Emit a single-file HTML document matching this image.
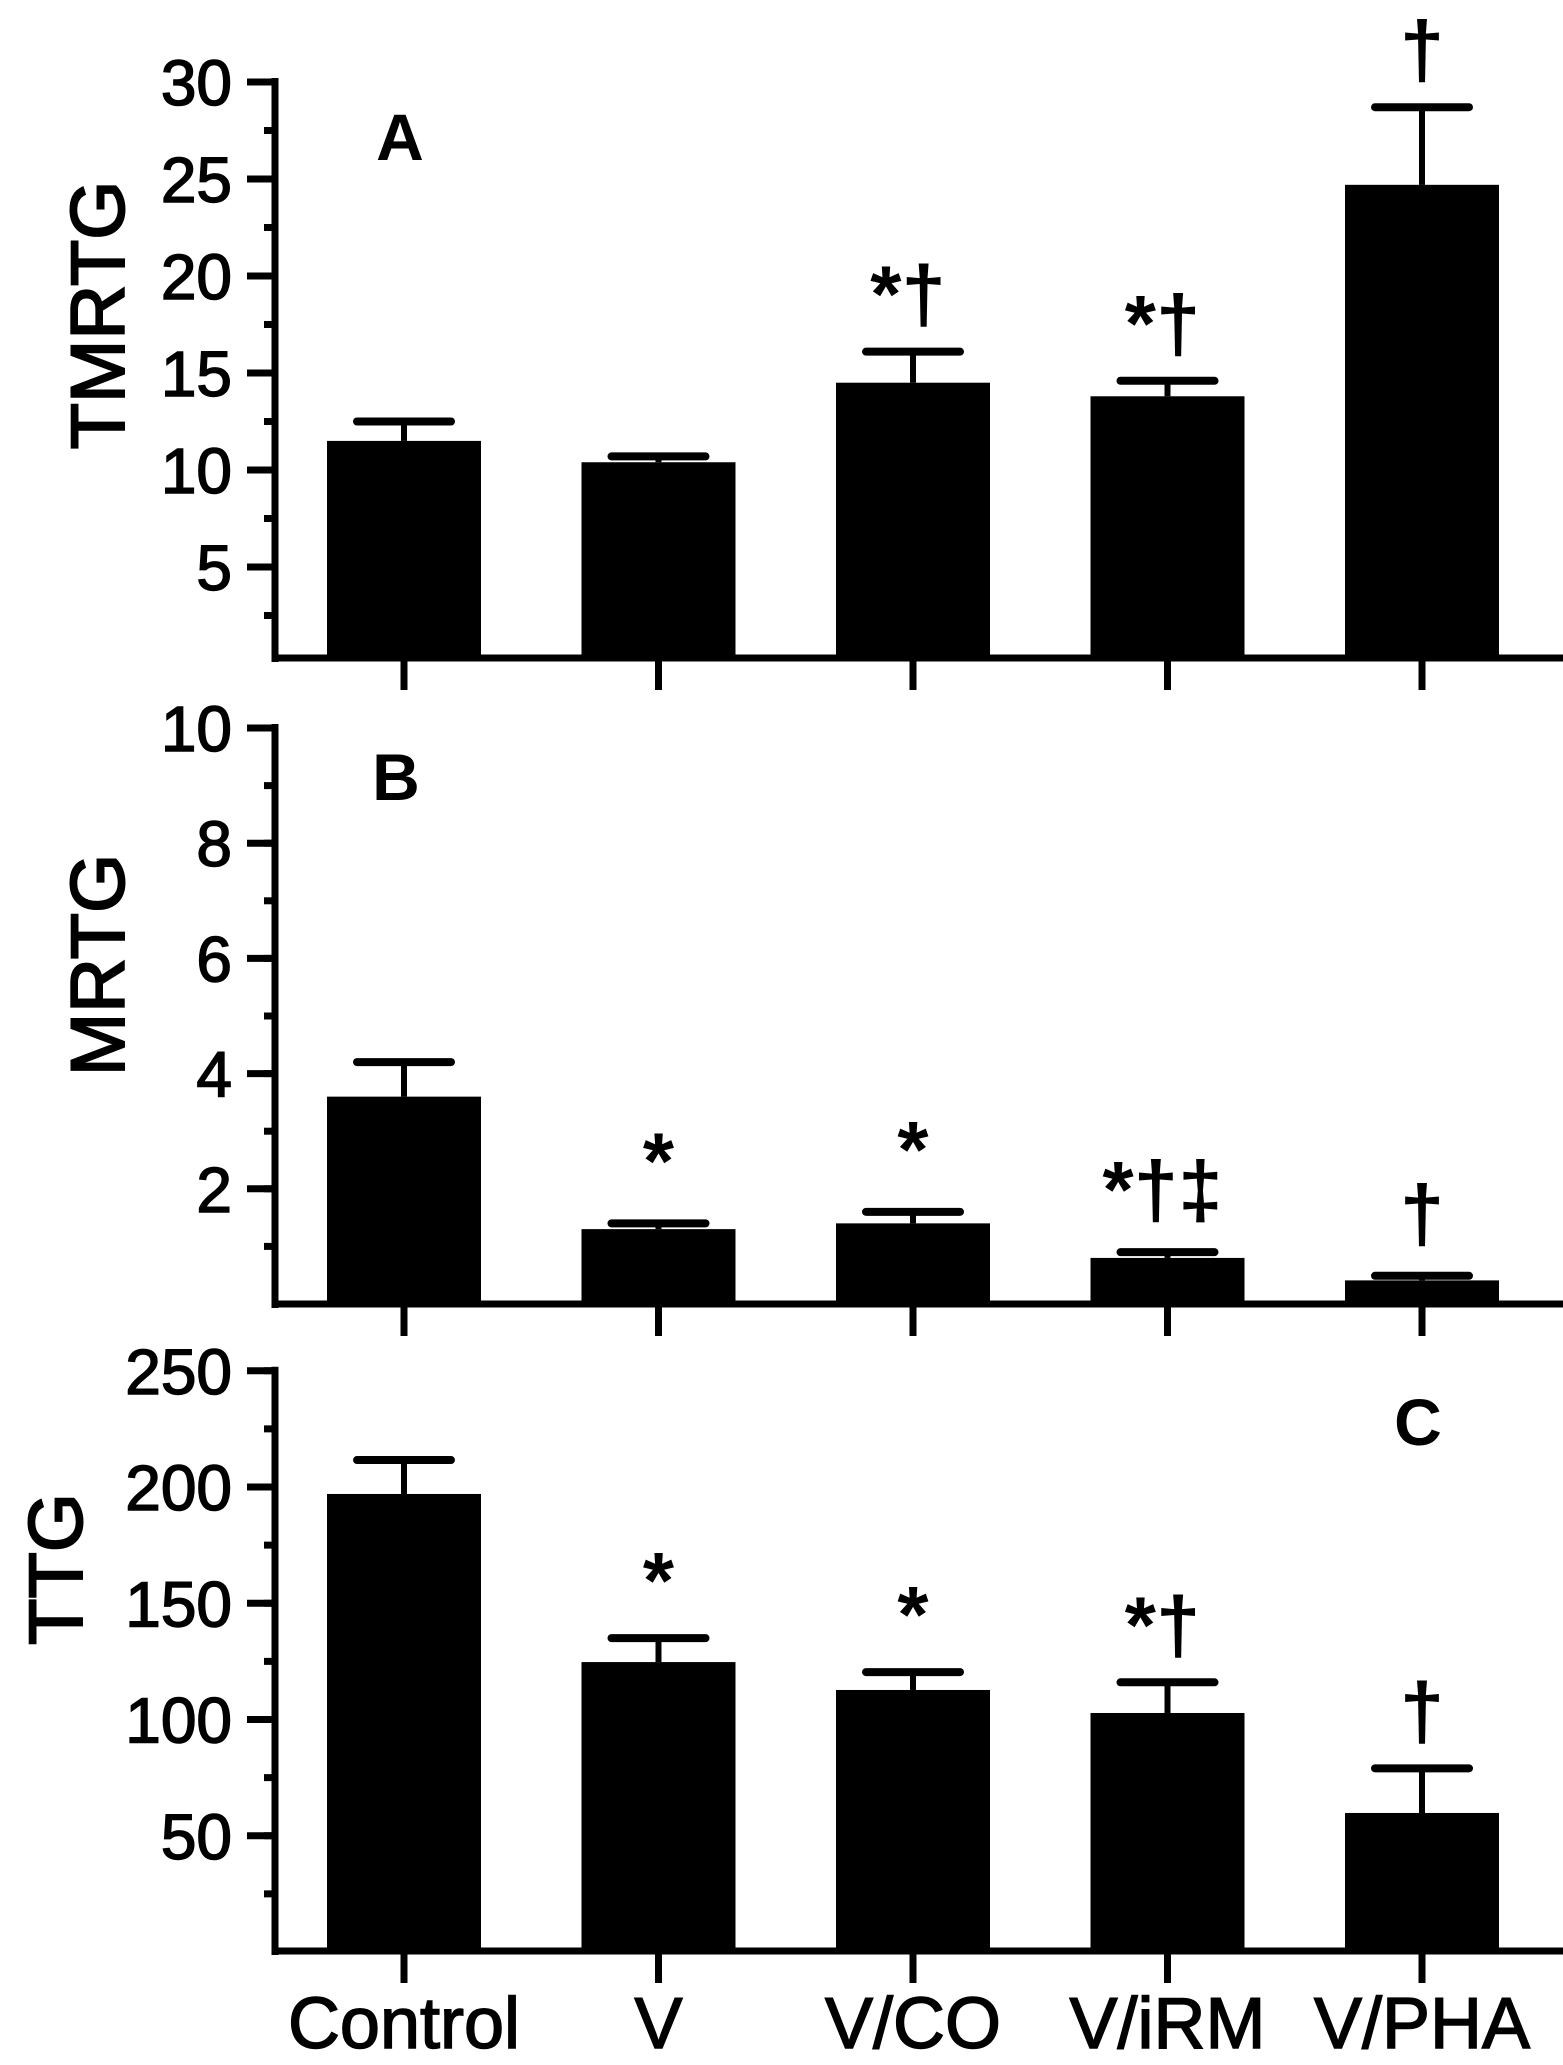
<!DOCTYPE html>
<html><head><meta charset="utf-8"><style>
html,body{margin:0;padding:0;background:#fff;}
svg{display:block;}
text{font-family:"Liberation Sans",Arial,sans-serif;fill:#000;}
</style></head><body>
<svg id="chart" width="1563" height="2065" viewBox="0 0 1563 2065" xmlns="http://www.w3.org/2000/svg"></svg>
<script>
const categories = ["Control","V","V/CO","V/iRM","V/PHA"];
const tmrtgValues = [11.5,10.4,14.5,13.8,24.7];
const tmrtgErrors = [12.5,10.7,16.1,14.6,28.7];
const tmrtgTicks = [5,10,15,20,25,30];
const tmrtgMarks = ["","","*†","*†","†"];
const mrtgValues = [3.6,1.3,1.4,0.8,0.41];
const mrtgErrors = [4.2,1.4,1.6,0.9,0.49];
const mrtgTicks = [2,4,6,8,10];
const mrtgMarks = ["","*","*","*†‡","†"];
const ttgValues = [197,124.7,112.7,102.8,59.8];
const ttgErrors = [211.6,135,120.4,116,79];
const ttgTicks = [50,100,150,200,250];
const ttgMarks = ["","*","*","*†","†"];

const NS="http://www.w3.org/2000/svg";
const svg=document.getElementById('chart');
function mk(tag,attrs,parent){const e=document.createElementNS(NS,tag);for(const k in attrs)e.setAttribute(k,attrs[k]);(parent||svg).appendChild(e);return e;}
const xLeft=275, xRight=1563, x0=404, dx=254.5, barW=154;
function xC(i){return x0+i*dx;}

function panel(cfg){
  const g=mk('g',{});
  
  
  const y=v=>cfg.zeroY-v*cfg.scale;
  const top=y(cfg.max);
  cfg.values.forEach((v,i)=>{
    const r=mk('rect',{x:xC(i)-barW/2,y:y(v),width:barW,height:cfg.base-y(v),fill:'#000'},g);
    
    
    const eb=mk('g',{},g);
    
    
    mk('line',{x1:xC(i),x2:xC(i),y1:y(v),y2:y(cfg.errors[i]),stroke:'#000','stroke-width':6},eb);
    mk('line',{x1:xC(i)-47,x2:xC(i)+47,y1:y(cfg.errors[i]),y2:y(cfg.errors[i]),stroke:'#000','stroke-width':8,'stroke-linecap':'round'},eb);
    if(cfg.marks[i]){
      const t=mk('text',{x:xC(i)+(cfg.marks[i].length>1?-5:0),y:y(cfg.errors[i])-cfg.markGap,'font-size':80,'font-weight':'bold','text-anchor':'middle'},g);
      t.textContent=cfg.marks[i];
      
      
    }
  });
  const ya=mk('line',{x1:xLeft,x2:xLeft,y1:top-4,y2:cfg.base+4,stroke:'#000','stroke-width':7},g);
  
  
  const xa=mk('line',{x1:xLeft-3,x2:xRight,y1:cfg.base,y2:cfg.base,stroke:'#000','stroke-width':7},g);
  
  
  categories.forEach((c,i)=>{
    mk('line',{x1:xC(i),x2:xC(i),y1:cfg.base,y2:cfg.base+32,stroke:'#000','stroke-width':7},g);
  });
  for(let v=cfg.minor;v<=cfg.max+1e-9;v+=cfg.minor){
    if(y(v)>cfg.base-3)continue;
    mk('line',{x1:xLeft-11,x2:xLeft,y1:y(v),y2:y(v),stroke:'#000','stroke-width':7},g);
  }
  cfg.ticks.forEach(v=>{
    mk('line',{x1:xLeft-28,x2:xLeft,y1:y(v),y2:y(v),stroke:'#000','stroke-width':7},g);
    const t=mk('text',{x:232,y:y(v)+23,'font-size':64,'text-anchor':'end',stroke:'#000','stroke-width':1.5},g);
    t.textContent=v;
    
    
  });
  const tt=mk('text',{x:0,y:0,'font-size':76,'text-anchor':'middle',stroke:'#000','stroke-width':2,transform:`translate(${cfg.titleX},${cfg.titleY}) rotate(-90)`},g);
  tt.textContent=cfg.title;
  
  
  const pl=mk('text',{x:cfg.letterX,y:cfg.letterY,'font-size':66,'font-weight':'bold','text-anchor':'middle'},g);
  pl.textContent=cfg.letter;
  
  
}

panel({name:'tmrtg',values:tmrtgValues,errors:tmrtgErrors,ticks:tmrtgTicks,marks:tmrtgMarks,zeroY:664,scale:19.4,max:30,minor:2.5,base:658,markGap:30,title:'TMRTG',titleX:124,titleY:315,letter:'A',letterX:400,letterY:160});
panel({name:'mrtg',values:mrtgValues,errors:mrtgErrors,ticks:mrtgTicks,marks:mrtgMarks,zeroY:1304,scale:57.6,max:10,minor:1,base:1304,markGap:35,title:'MRTG',titleX:124,titleY:965,letter:'B',letterX:396,letterY:800});
panel({name:'ttg',values:ttgValues,errors:ttgErrors,ticks:ttgTicks,marks:ttgMarks,zeroY:1952,scale:2.325,max:250,minor:25,base:1951,markGap:30,title:'TTG',titleX:82,titleY:1569,letter:'C',letterX:1418,letterY:1445});

categories.forEach((c,i)=>{
  const t=mk('text',{x:xC(i),y:2048,'font-size':72,'text-anchor':'middle',stroke:'#000','stroke-width':1.5});
  t.textContent=c;
  
  
});
</script>
</body></html>
